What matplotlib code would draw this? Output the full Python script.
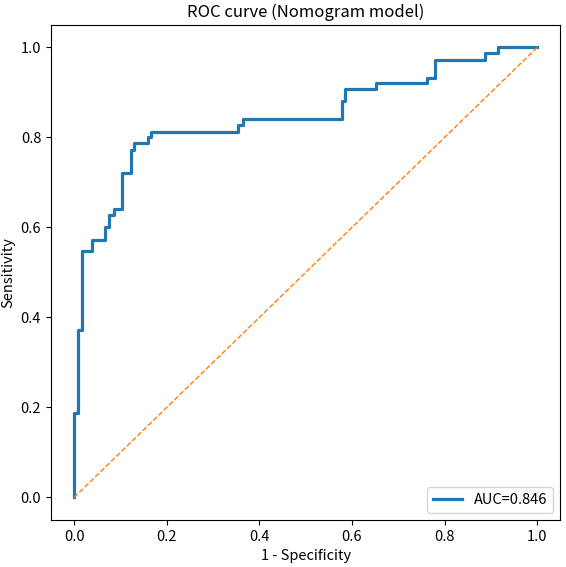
import matplotlib
matplotlib.use("Agg")
import matplotlib.pyplot as plt

# ROC corner points (step, horizontal then vertical)
fpr = [0, 0, 0.008, 0.017, 0.038, 0.066, 0.075, 0.086, 0.103, 0.122, 0.129,
       0.159, 0.167, 0.355, 0.365, 0.579, 0.586, 0.652, 0.762, 0.779, 0.888,
       0.916, 1.0]
tpr = [0, 0.187, 0.373, 0.547, 0.573, 0.6, 0.627, 0.64, 0.72, 0.773, 0.787,
       0.8, 0.813, 0.827, 0.84, 0.88, 0.907, 0.92, 0.933, 0.973, 0.987,
       1.0, 1.0]
auc = 0.846
diag = [0, 1]

plt.rcParams['font.family'] = ['Noto Sans CJK SC', 'DejaVu Sans']

fig = plt.figure(figsize=(5.66, 5.67), dpi=100)
ax = fig.add_axes([0.09, 0.083, 0.9, 0.873])
ax.step(fpr, tpr, where='post', color='#1f77b4', lw=2.3, label='AUC={:.3f}'.format(auc))
ax.plot(diag, diag, '--', color='#ff7f0e', lw=1)
ax.set_xlabel('1 - Specificity', fontsize=10.5)
ax.set_ylabel('Sensitivity', fontsize=10.5)
ax.tick_params(labelsize=10.5)
ax.set_title('ROC curve (Nomogram model)', fontsize=12)
ax.legend(loc='lower right', fontsize=10.5)
fig.savefig('out.png', dpi=100)
